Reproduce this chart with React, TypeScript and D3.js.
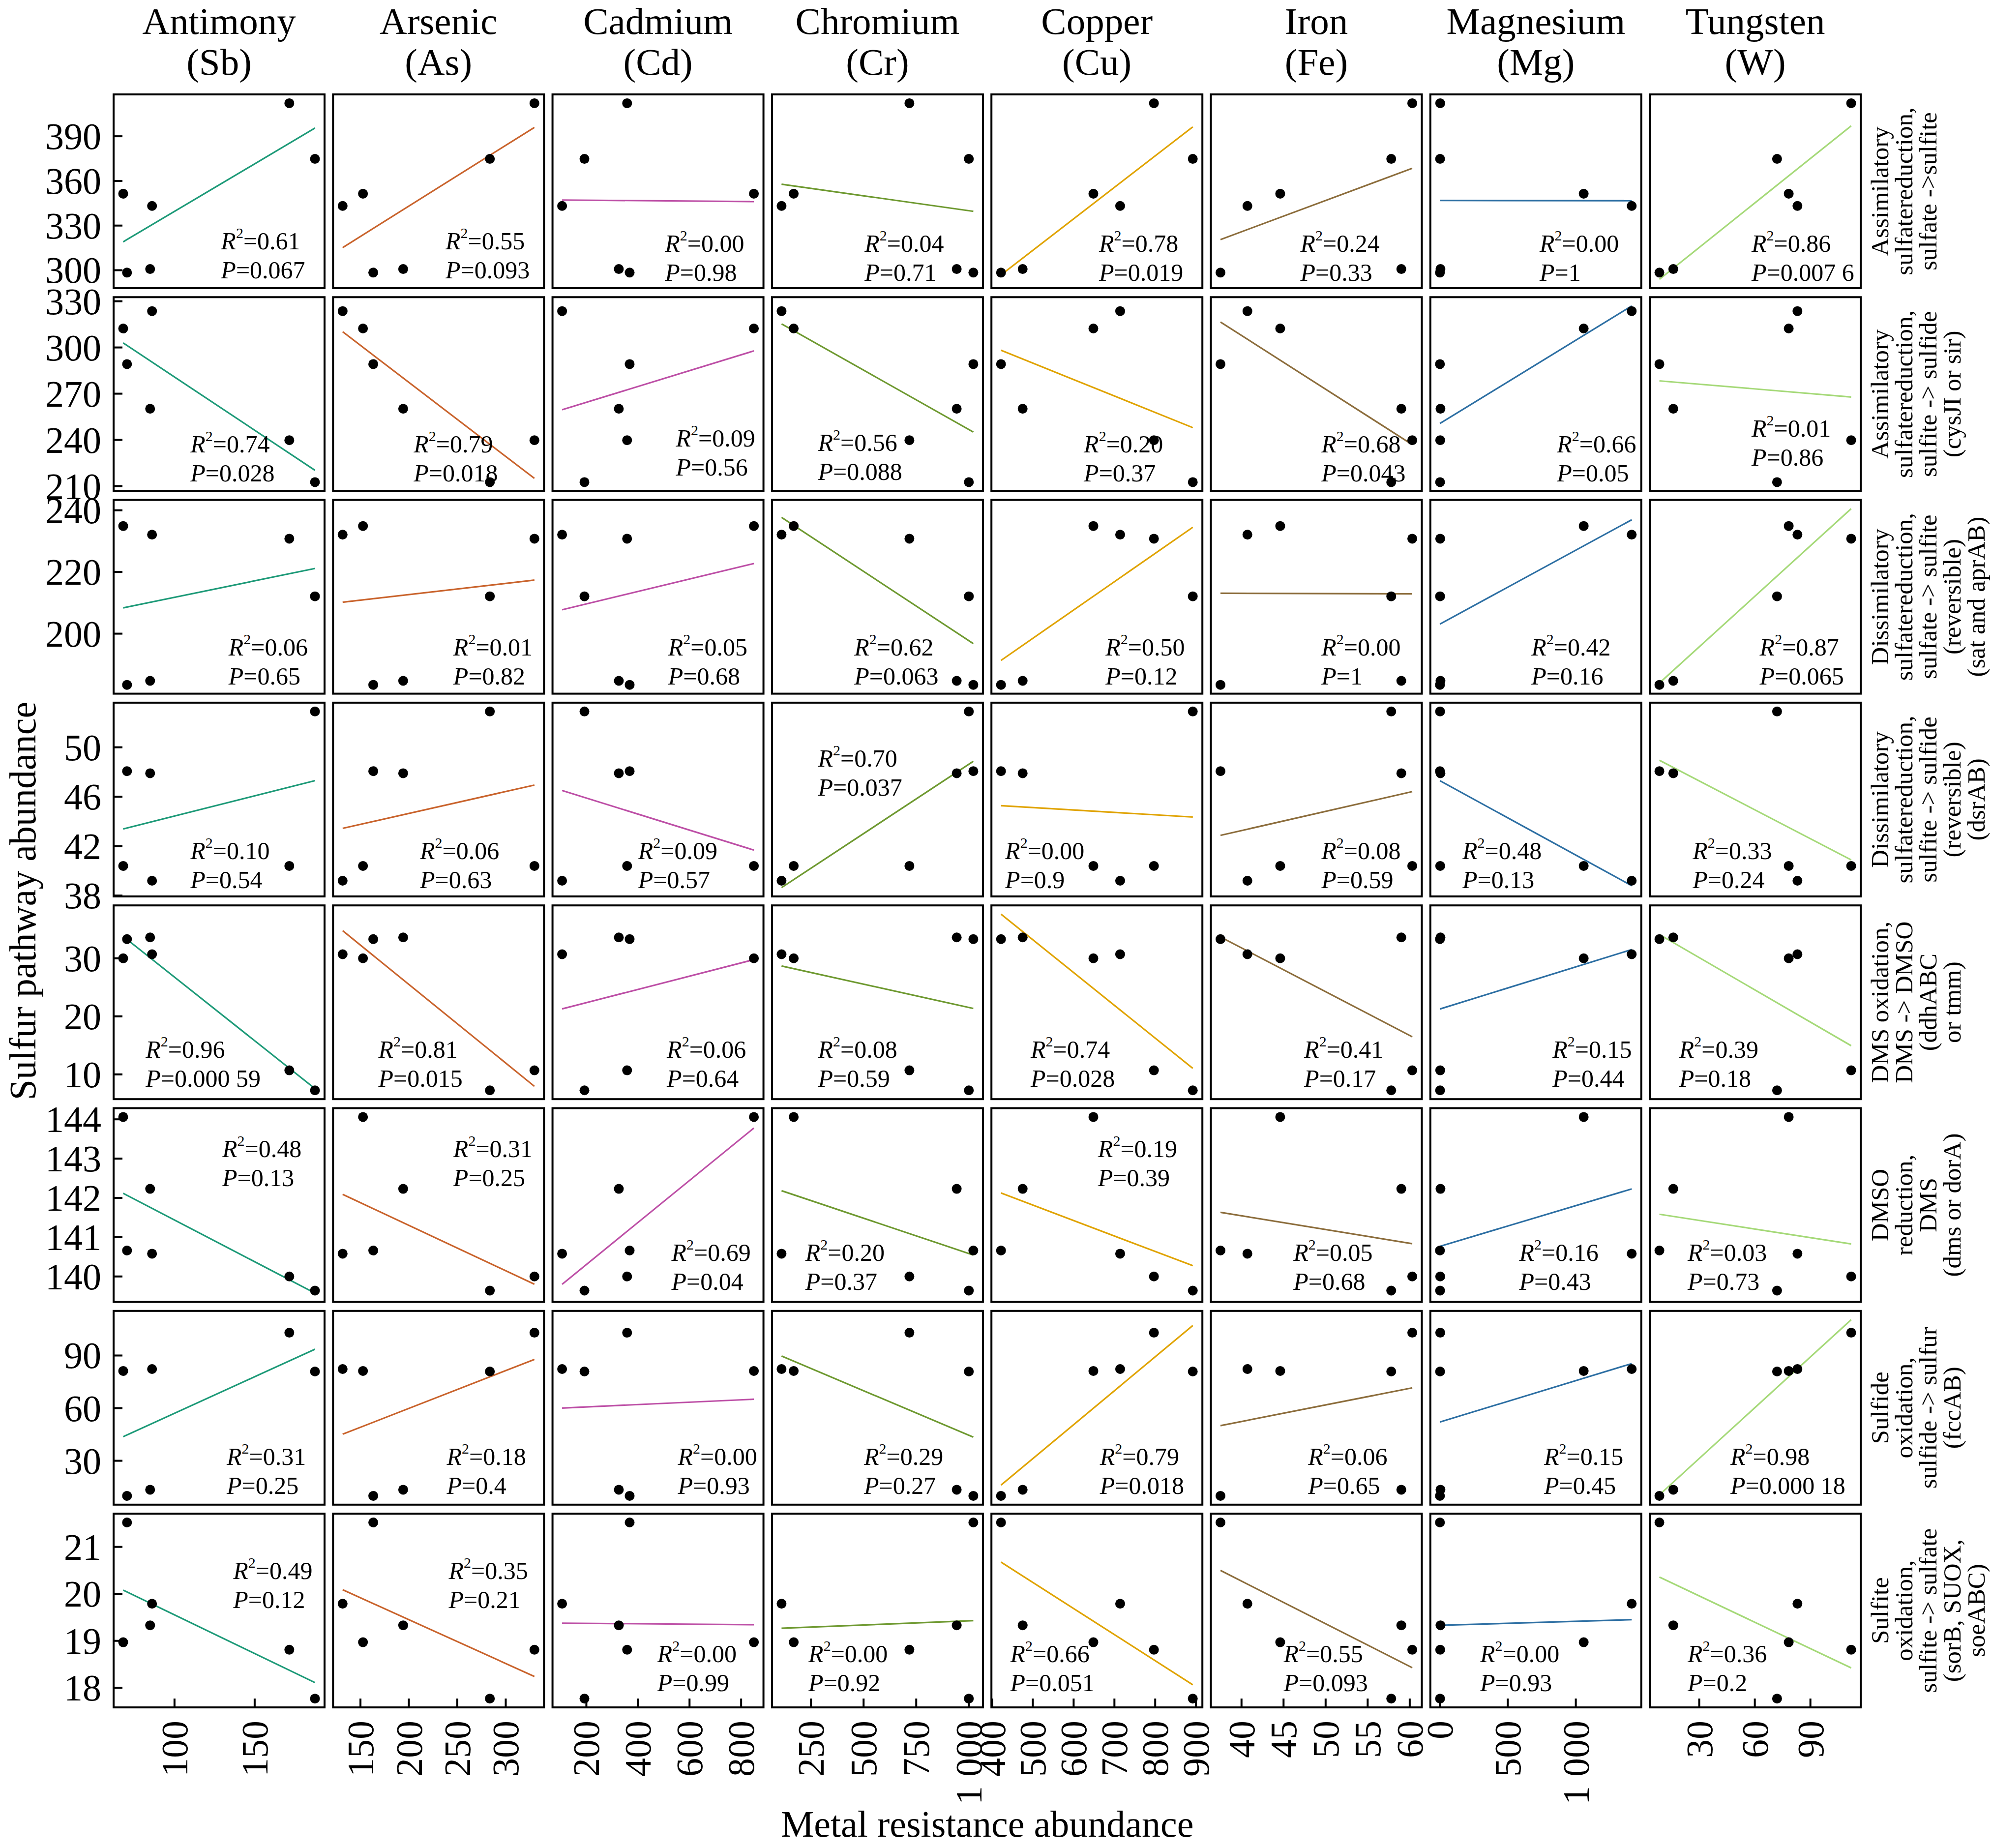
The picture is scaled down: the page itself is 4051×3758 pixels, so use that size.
import * as d3 from 'd3';

// ---- data (6 samples, S1..S6) ----
const metalNames = ["Antimony", "Arsenic", "Cadmium", "Chromium", "Copper", "Iron", "Magnesium", "Tungsten"];
const metalSymbols = ["(Sb)", "(As)", "(Cd)", "(Cr)", "(Cu)", "(Fe)", "(Mg)", "(W)"];
const lineColors = ["#1d9a78", "#c9632c", "#bd4fa6", "#6e9930", "#e0a300", "#8c6d3c", "#2d6fa3", "#a5d978"];

// metal resistance abundance per sample
const sb = [171.6, 187.6, 68.0, 86.0, 84.8, 70.4];
const as = [329.6, 283.6, 152.6, 131.6, 194.1, 163.2];
const cd = [358, 192.6, 849.4, 106, 325.9, 367.9];
const cr = [717.6, 1000, 168, 110.3, 942.4, 1021.3];
const cu = [796.9, 892.2, 648.4, 714, 475, 421.9];
const fe = [60.3, 57.8, 44.6, 40.7, 59.0, 37.5];
const mg = [3, 2, 1058, 1411, 5, 1];
const w = [112, 72, 78.3, 83, 16, 8.5];
const metalValues = [sb, as, cd, cr, cu, fe, mg, w];

const metalTicks = [
  [100, 150],
  [150, 200, 250, 300],
  [200, 400, 600, 800],
  [250, 500, 750, 1000],
  [400, 500, 600, 700, 800, 900],
  [40, 45, 50, 55, 60],
  [0, 500, 1000],
  [30, 60, 90],
];

// sulfur pathway abundance per sample
const pathwayLabels = [
  ["Assimilatory", "sulfatereduction,", "sulfate ->sulfite"],
  ["Assimilatory", "sulfatereduction,", "sulfite -> sulfide", "(cysJI or sir)"],
  ["Dissimilatory", "sulfatereduction,", "sulfate -> sulfite", "(reversible)", "(sat and aprAB)"],
  ["Dissimilatory", "sulfatereduction,", "sulfite -> sulfide", "(reversible)", "(dsrAB)"],
  ["DMS oxidation,", "DMS -> DMSO", "(ddhABC", "or tmm)"],
  ["DMSO", "reduction,", "DMS", "(dms or dorA)"],
  ["Sulfide", "oxidation,", "sulfide -> sulfur", "(fccAB)"],
  ["Sulfite", "oxidation,", "sulfite -> sulfate", "(sorB, SUOX,", "soeABC)"],
];
const assimSulfite = [412.2, 374.8, 351.4, 343.2, 300.8, 298.4];
const assimSulfide = [239.8, 212.6, 312.3, 323.6, 260.2, 289.2];
const dissimSulfite = [230.8, 212.1, 234.9, 232.1, 184.7, 183.4];
const dissimSulfide = [40.4, 52.9, 40.4, 39.2, 47.9, 48.07];
const dmsOxidation = [10.7, 7.25, 30.0, 30.7, 33.6, 33.3];
const dmsoReduction = [140.0, 139.64, 144.06, 140.58, 142.23, 140.66];
const sulfideOxidation = [103.0, 80.9, 81.2, 82.3, 13.5, 10.0];
const sulfiteOxidation = [18.81, 17.77, 18.97, 19.79, 19.33, 21.52];
const pathwayValues = [assimSulfite, assimSulfide, dissimSulfite, dissimSulfide, dmsOxidation, dmsoReduction, sulfideOxidation, sulfiteOxidation];

const pathwayTicks = [
  [300, 330, 360, 390],
  [210, 240, 270, 300, 330],
  [200, 220, 240],
  [38, 42, 46, 50],
  [10, 20, 30],
  [140, 141, 142, 143, 144],
  [30, 60, 90],
  [18, 19, 20, 21],
];

// printed statistics, row = pathway, column = metal
const r2Labels = [
  ["0.61", "0.55", "0.00", "0.04", "0.78", "0.24", "0.00", "0.86"],
  ["0.74", "0.79", "0.09", "0.56", "0.20", "0.68", "0.66", "0.01"],
  ["0.06", "0.01", "0.05", "0.62", "0.50", "0.00", "0.42", "0.87"],
  ["0.10", "0.06", "0.09", "0.70", "0.00", "0.08", "0.48", "0.33"],
  ["0.96", "0.81", "0.06", "0.08", "0.74", "0.41", "0.15", "0.39"],
  ["0.48", "0.31", "0.69", "0.20", "0.19", "0.05", "0.16", "0.03"],
  ["0.31", "0.18", "0.00", "0.29", "0.79", "0.06", "0.15", "0.98"],
  ["0.49", "0.35", "0.00", "0.00", "0.66", "0.55", "0.00", "0.36"],
];
const pLabels = [
  ["0.067", "0.093", "0.98", "0.71", "0.019", "0.33", "1", "0.007 6"],
  ["0.028", "0.018", "0.56", "0.088", "0.37", "0.043", "0.05", "0.86"],
  ["0.65", "0.82", "0.68", "0.063", "0.12", "1", "0.16", "0.065"],
  ["0.54", "0.63", "0.57", "0.037", "0.9", "0.59", "0.13", "0.24"],
  ["0.000 59", "0.015", "0.64", "0.59", "0.028", "0.17", "0.44", "0.18"],
  ["0.13", "0.25", "0.04", "0.37", "0.39", "0.68", "0.43", "0.73"],
  ["0.25", "0.4", "0.93", "0.27", "0.018", "0.65", "0.45", "0.000 18"],
  ["0.12", "0.21", "0.99", "0.92", "0.051", "0.093", "0.93", "0.2"],
];

// where the stats label sits inside each panel (fraction of width / height)
const labelPos = [
  [[0.509, 0.757], [0.533, 0.757], [0.533, 0.77], [0.439, 0.77], [0.51, 0.77], [0.424, 0.77], [0.518, 0.77], [0.482, 0.77]],
  [[0.364, 0.757], [0.382, 0.757], [0.585, 0.727], [0.218, 0.75], [0.438, 0.757], [0.524, 0.757], [0.6, 0.757], [0.482, 0.676]],
  [[0.545, 0.76], [0.57, 0.76], [0.548, 0.76], [0.39, 0.76], [0.541, 0.76], [0.524, 0.76], [0.479, 0.76], [0.521, 0.76]],
  [[0.364, 0.763], [0.412, 0.763], [0.406, 0.763], [0.218, 0.288], [0.065, 0.763], [0.524, 0.763], [0.152, 0.763], [0.203, 0.763]],
  [[0.152, 0.743], [0.215, 0.743], [0.542, 0.743], [0.218, 0.743], [0.186, 0.743], [0.442, 0.743], [0.579, 0.743], [0.139, 0.743]],
  [[0.515, 0.21], [0.57, 0.21], [0.564, 0.745], [0.158, 0.745], [0.505, 0.21], [0.391, 0.745], [0.421, 0.745], [0.179, 0.745]],
  [[0.536, 0.752], [0.539, 0.752], [0.594, 0.752], [0.436, 0.752], [0.514, 0.752], [0.461, 0.752], [0.539, 0.752], [0.382, 0.752]],
  [[0.567, 0.295], [0.548, 0.295], [0.497, 0.724], [0.173, 0.724], [0.089, 0.724], [0.345, 0.724], [0.236, 0.724], [0.179, 0.724]],
];

// ---- layout ----
const W = 4051;
const H = 3758;
const left0 = 231;
const top0 = 192;
const stepX = 446.3;
const stepY = 412.3;
const pw = 429;
const ph = 394;
const tickLen = 18;
const font = "'Liberation Serif', 'Times New Roman', Times, serif";

function fit(xs: number[], ys: number[]) {
  const mx = d3.mean(xs)!;
  const my = d3.mean(ys)!;
  const sxy = d3.sum(xs, (x, i) => (x - mx) * (ys[i] - my));
  const sxx = d3.sum(xs, (x) => (x - mx) ** 2);
  const b = sxy / sxx;
  const a = my - b * mx;
  const [x1, x2] = d3.extent(xs) as [number, number];
  return { x1, x2, y1: a + b * x1, y2: a + b * x2 };
}

function pad([lo, hi]: [number, number]): [number, number] {
  const d = (hi - lo) * 0.05;
  return [lo - d, hi + d];
}

const fmtTick = (v: number) => (v >= 1000 ? d3.format(",")(v).replace(/,/g, " ") : String(v));

export default function App() {
  const fits = pathwayValues.map((ys) => metalValues.map((xs) => fit(xs, ys)));
  const xDomains = metalValues.map((xs) => pad(d3.extent(xs) as [number, number]));
  // free scales: y range covers the points and the fitted lines of the whole row
  const yDomains = pathwayValues.map((ys, r) => {
    const all = [...ys, ...fits[r].flatMap((f) => [f.y1, f.y2])];
    return pad(d3.extent(all) as [number, number]);
  });

  const xScales = metalValues.map((_, c) =>
    d3.scaleLinear().domain(xDomains[c]).range([left0 + c * stepX, left0 + c * stepX + pw])
  );
  const yScales = pathwayValues.map((_, r) =>
    d3.scaleLinear().domain(yDomains[r]).range([top0 + r * stepY + ph, top0 + r * stepY])
  );

  const gridW = left0 + 7 * stepX + pw;
  const gridH = top0 + 7 * stepY + ph;

  return (
    <div style={{ position: 'absolute', left: 0, top: 0 }}>
      <svg width={W} height={H} style={{ display: 'block', background: '#fff' }} fontFamily={font}>
        {/* column titles */}
        {metalNames.map((m, c) => {
          const cx = left0 + c * stepX + pw / 2;
          return (
            <text key={m} x={cx} textAnchor="middle" fontSize={77}>
              <tspan x={cx} y={69}>{m}</tspan>
              <tspan x={cx} y={152}>{metalSymbols[c]}</tspan>
            </text>
          );
        })}

        {pathwayValues.map((ys, r) =>
          metalValues.map((xs, c) => {
            const sx = xScales[c];
            const sy = yScales[r];
            const x0 = left0 + c * stepX;
            const y0 = top0 + r * stepY;
            const f = fits[r][c];
            const [fx, fy] = labelPos[r][c];
            const lx = x0 + fx * pw;
            const ly = y0 + fy * ph;
            return (
              <g key={`${r}-${c}`}>
                <rect x={x0} y={y0} width={pw} height={ph} fill="#fff" />
                <line x1={sx(f.x1)} y1={sy(f.y1)} x2={sx(f.x2)} y2={sy(f.y2)} stroke={lineColors[c]} strokeWidth={3.2} />
                {xs.map((x, i) => (
                  <circle key={i} cx={sx(x)} cy={sy(ys[i])} r={10} fill="#000" />
                ))}
                <text x={lx} y={ly} fontSize={50} dominantBaseline="central">
                  <tspan fontStyle="italic">R</tspan>
                  <tspan fontSize={30} dy={-17}>2</tspan>
                  <tspan dy={17}>={r2Labels[r][c]}</tspan>
                </text>
                <text x={lx} y={ly + 59} fontSize={50} dominantBaseline="central">
                  <tspan fontStyle="italic">P</tspan>
                  <tspan>={pLabels[r][c]}</tspan>
                </text>
                {c === 0 &&
                  pathwayTicks[r].map((t) => (
                    <g key={`yt${t}`}>
                      <line x1={x0} x2={x0 + tickLen} y1={sy(t)} y2={sy(t)} stroke="#000" strokeWidth={4} />
                      <text x={x0 - 25} y={sy(t)} textAnchor="end" dominantBaseline="central" fontSize={76}>
                        {fmtTick(t)}
                      </text>
                    </g>
                  ))}
                {r === 7 &&
                  metalTicks[c].map((t) => (
                    <g key={`xt${t}`}>
                      <line x1={sx(t)} x2={sx(t)} y1={y0 + ph} y2={y0 + ph - tickLen} stroke="#000" strokeWidth={4} />
                      <text
                        transform={`translate(${sx(t)},${y0 + ph + 27}) rotate(-90)`}
                        textAnchor="end"
                        dominantBaseline="central"
                        fontSize={76}
                      >
                        {fmtTick(t)}
                      </text>
                    </g>
                  ))}
                <rect x={x0} y={y0} width={pw} height={ph} fill="none" stroke="#000" strokeWidth={4} />
              </g>
            );
          })
        )}

        {/* row strips on the right */}
        {pathwayLabels.map((lines, r) => {
          const cy = top0 + r * stepY + ph / 2;
          return (
            <text
              key={r}
              transform={`translate(3823,${cy}) rotate(-90)`}
              textAnchor="middle"
              dominantBaseline="central"
              fontSize={51}
            >
              {lines.map((l, i) => (
                <tspan key={i} x={0} y={i * 49}>{l}</tspan>
              ))}
            </text>
          );
        })}

        {/* axis titles */}
        <text x={(left0 + gridW) / 2} y={3735} textAnchor="middle" fontSize={76}>
          Metal resistance abundance
        </text>
        <text transform={`translate(72,${(top0 + gridH) / 2}) rotate(-90)`} textAnchor="middle" fontSize={76}>
          Sulfur pathway abundance
        </text>
      </svg>
    </div>
  );
}
